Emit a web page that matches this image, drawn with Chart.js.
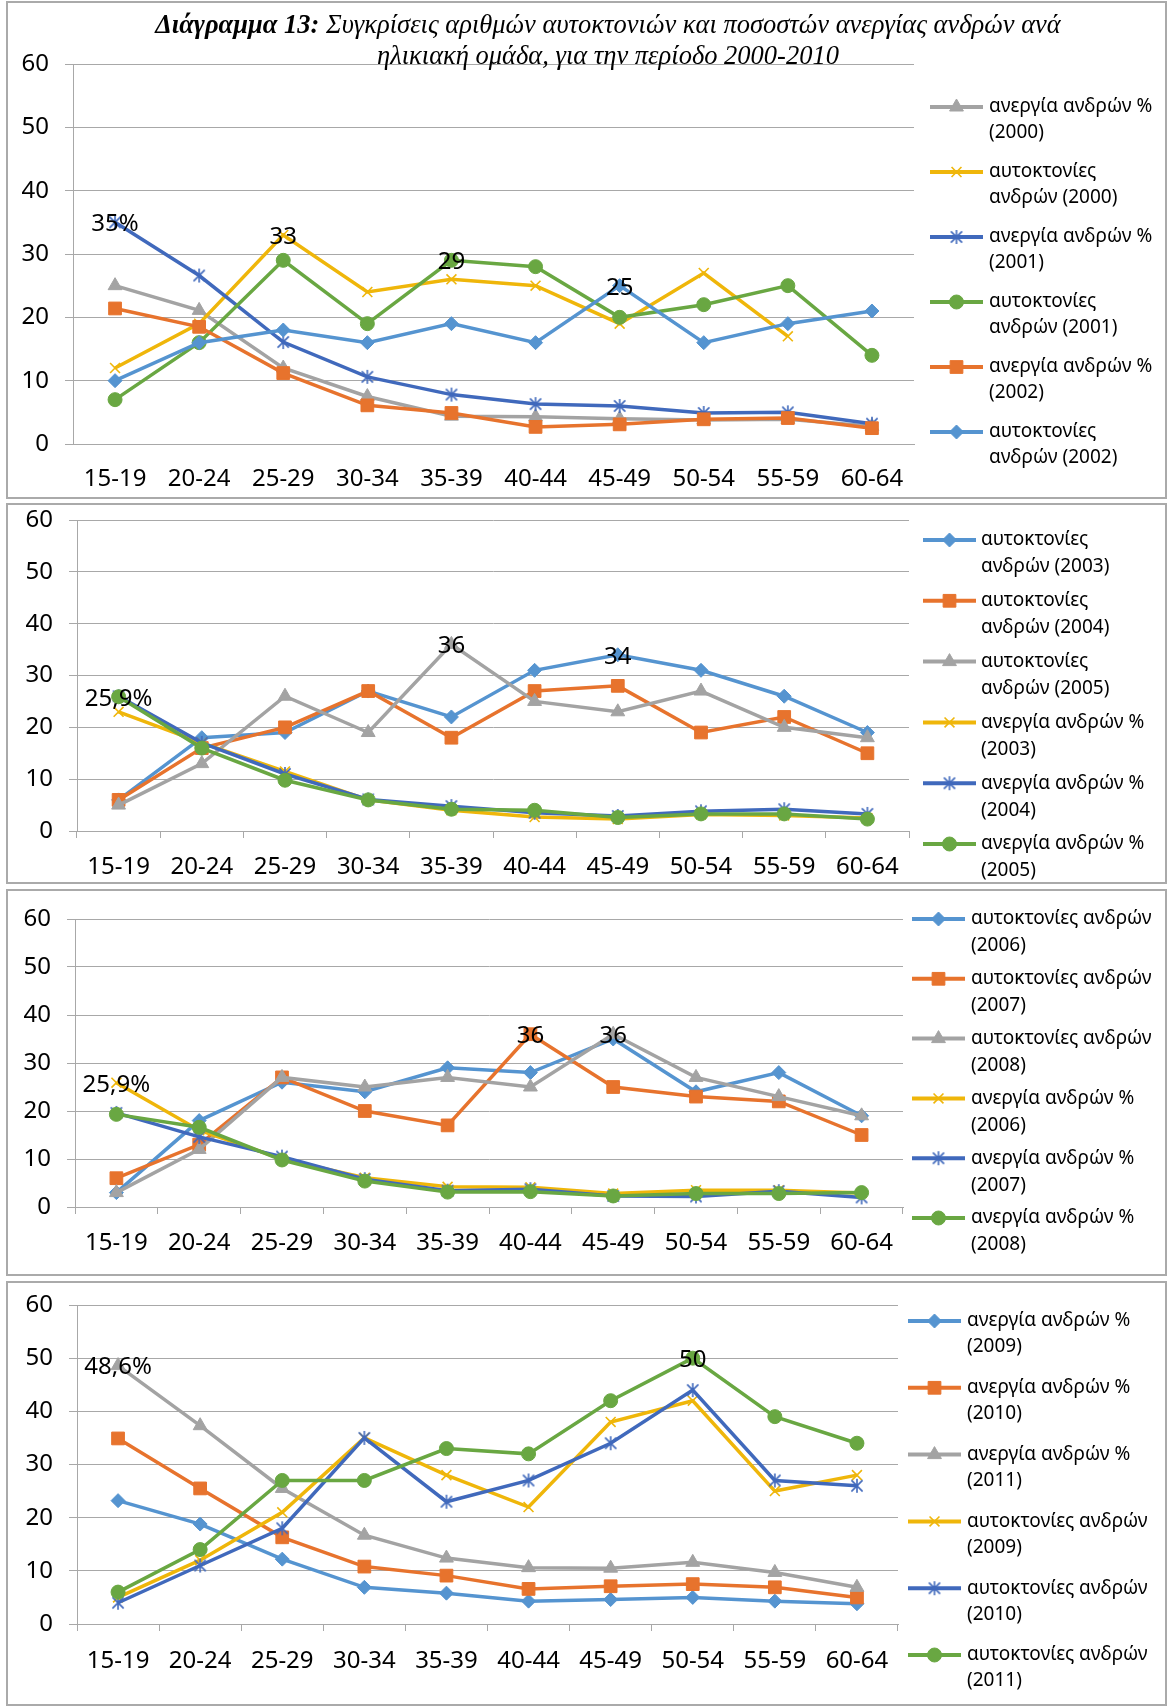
<!DOCTYPE html>
<html>
<head>
<meta charset="utf-8">
<script src="https://cdn.jsdelivr.net/npm/chart.js@4.4.0/dist/chart.umd.min.js"></script>
<style>
  body { margin: 0; background: #fff; }
  #page { position: relative; width: 1169px; height: 1706px; overflow: hidden; }
  .panel { position: absolute; left: 6px; width: 1161px; border: 2px solid #aaaaaa; box-sizing: border-box; }
  canvas { position: absolute; left: 0; }
  #title {
    position: absolute; left: 108px; width: 1000px; top: 9px;
    text-align: center; color: #000; white-space: nowrap;
    font-family: "Liberation Serif", "DejaVu Serif", serif;
    font-style: italic; font-size: 26.5px; line-height: 30.5px;
  }
</style>
</head>
<body>
<div id="page">
  <div class="panel" style="top:1px;height:498px"></div>
  <div class="panel" style="top:503px;height:381px"></div>
  <div class="panel" style="top:889px;height:387px"></div>
  <div class="panel" style="top:1281px;height:425px"></div>
  <canvas id="c1" width="1169" height="497" style="top:1px"></canvas>
  <canvas id="c2" width="1169" height="380" style="top:503px"></canvas>
  <canvas id="c3" width="1169" height="386" style="top:889px"></canvas>
  <canvas id="c4" width="1169" height="423" style="top:1281px"></canvas>
  <div id="title"><b>Διάγραμμα 13:</b> Συγκρίσεις αριθμών αυτοκτονιών και ποσοστών ανεργίας ανδρών ανά<br>ηλικιακή ομάδα, για την περίοδο 2000-2010</div>
</div>
<script>
const ageGroups = ['15-19', '20-24', '25-29', '30-34', '35-39', '40-44', '45-49', '50-54', '55-59', '60-64'];

// 2000 - 2002
const unemp2000 = [25, 21.1, 12, 7.5, 4.4, 4.3, 4.0, 3.8, 3.9, 2.8];
const suic2000 = [12, 19, 33, 24, 26, 25, 19, 27, 17, null];
const unemp2001 = [35, 26.6, 16.1, 10.6, 7.8, 6.3, 6.0, 4.9, 5.0, 3.2];
const suic2001 = [7, 16, 29, 19, 29, 28, 20, 22, 25, 14];
const unemp2002 = [21.4, 18.5, 11.2, 6.1, 4.9, 2.7, 3.1, 3.9, 4.1, 2.5];
const suic2002 = [10, 16, 18, 16, 19, 16, 25, 16, 19, 21];

// 2003 - 2005
const suic2003 = [6, 18, 19, 27, 22, 31, 34, 31, 26, 19];
const suic2004 = [6, 16, 20, 27, 18, 27, 28, 19, 22, 15];
const suic2005 = [5, 13, 26, 19, 36, 25, 23, 27, 20, 18];
const unemp2003 = [23, 17, 11.5, 6, 4, 2.7, 2.3, 3.2, 3, 2.5];
const unemp2004 = [26, 17, 11, 6.1, 4.8, 3.5, 2.9, 3.8, 4.2, 3.3];
const unemp2005 = [25.9, 16, 9.8, 6, 4.2, 4, 2.6, 3.3, 3.3, 2.3];

// 2006 - 2008
const suic2006 = [3, 18, 26, 24, 29, 28, 35, 24, 28, 19];
const suic2007 = [6, 13, 27, 20, 17, 36, 25, 23, 22, 15];
const suic2008 = [3, 12, 27, 25, 27, 25, 36, 27, 23, 19];
const unemp2006 = [25.9, 16, 10, 6.1, 4.2, 4.1, 2.8, 3.5, 3.5, 2.9];
const unemp2007 = [19.6, 14.6, 10.5, 5.8, 3.4, 3.7, 2.3, 2.2, 3.3, 2.0];
const unemp2008 = [19.3, 16.6, 9.8, 5.4, 3.1, 3.2, 2.3, 2.8, 2.8, 3.0];

// 2009 - 2011
const unemp2009 = [23.2, 18.8, 12.2, 6.9, 5.8, 4.3, 4.6, 5.0, 4.3, 3.8];
const unemp2010 = [34.9, 25.5, 16.3, 10.8, 9.1, 6.6, 7.1, 7.5, 6.9, 5.0];
const unemp2011 = [48.6, 37.3, 25.5, 16.7, 12.4, 10.6, 10.5, 11.6, 9.7, 6.9];
const suic2009 = [5, 12, 21, 35, 28, 22, 38, 42, 25, 28];
const suic2010 = [4, 11, 18, 35, 23, 27, 34, 44, 27, 26];
const suic2011 = [6, 14, 27, 27, 33, 32, 42, 50, 39, 34];

const yTicks = [0, 10, 20, 30, 40, 50, 60];

const lightBlue = '#5594d0';
const orange = '#e7732d';
const grey = '#a3a3a3';
const gold = '#efb60a';
const darkBlue = '#4069bc';
const green = '#69a742';

const FONT = '"Noto Sans", "Open Sans", sans-serif';
const GRID = '#a8a8a8';

// excel-like asterisk marker
function asterisk(color, r) {
  const c = document.createElement('canvas');
  const s = Math.ceil(r * 2 + 4);
  c.width = c.height = s;
  const g = c.getContext('2d');
  const m = s / 2, d = r * 0.8;
  g.strokeStyle = color;
  g.lineWidth = 1.6;
  g.beginPath();
  g.moveTo(m, m - r); g.lineTo(m, m + r);
  g.moveTo(m - d, m - d); g.lineTo(m + d, m + d);
  g.moveTo(m - d, m + d); g.lineTo(m + d, m - d);
  g.stroke();
  return c;
}

const styles = {
  lightBlue: { color: lightBlue, pointStyle: 'rectRot', radius: 7, bw: 1 },
  orange: { color: orange, pointStyle: 'rect', radius: 9, bw: 1 },
  grey: { color: grey, pointStyle: 'triangle', radius: 8, bw: 1 },
  gold: { color: gold, pointStyle: 'crossRot', radius: 7, bw: 1.6 },
  darkBlue: { color: darkBlue, pointStyle: asterisk(darkBlue, 7), radius: 7, bw: 1 },
  green: { color: green, pointStyle: 'circle', radius: 7, bw: 1 }
};

function wrapText(ctx, text, maxWidth) {
  const words = text.split(' ');
  const lines = [];
  let cur = '';
  words.forEach(w => {
    const test = cur ? cur + ' ' + w : w;
    if (cur && ctx.measureText(test).width > maxWidth) {
      lines.push(cur);
      cur = w;
    } else {
      cur = test;
    }
  });
  if (cur) lines.push(cur);
  return lines;
}

// legend on the right, one entry per dataset with wrapped text
const sideLegend = {
  id: 'sideLegend',
  afterDraw(chart, args, opts) {
    const ctx = chart.ctx;
    ctx.save();
    ctx.font = '19px ' + FONT;
    ctx.textBaseline = 'middle';
    ctx.textAlign = 'left';
    chart.data.datasets.forEach((ds, i) => {
      const y = opts.y0 + i * opts.step;
      ctx.strokeStyle = ds.borderColor;
      ctx.lineWidth = 4;
      ctx.beginPath();
      ctx.moveTo(opts.x1, y);
      ctx.lineTo(opts.x2, y);
      ctx.stroke();
      ctx.fillStyle = ds.borderColor;
      ctx.lineWidth = ds.pointBorderWidth;
      Chart.helpers.drawPoint(ctx, {
        pointStyle: ds.pointStyle, radius: ds.pointRadius, rotation: 0, borderWidth: ds.pointBorderWidth
      }, (opts.x1 + opts.x2) / 2, y);
      ctx.fillStyle = '#000';
      wrapText(ctx, ds.label, opts.maxWidth).forEach((line, k) => {
        ctx.fillText(line, opts.tx, y + k * opts.lineGap);
      });
    });
    ctx.restore();
  }
};

// value labels written over selected points
const pointLabels = {
  id: 'pointLabels',
  afterDatasetsDraw(chart, args, opts) {
    const ctx = chart.ctx;
    ctx.save();
    ctx.font = '24px ' + FONT;
    ctx.fillStyle = '#000';
    ctx.textAlign = 'center';
    ctx.textBaseline = 'middle';
    (opts.items || []).forEach(it => {
      const el = chart.getDatasetMeta(it.ds).data[it.idx];
      const v = chart.data.datasets[it.ds].data[it.idx];
      const txt = String(v).replace('.', ',') + (it.suffix || '');
      ctx.fillText(txt, el.x, el.y + 2);
    });
    ctx.restore();
  }
};

function makeChart(id, series, box, legend, labelItems) {
  const n = series.length;
  const datasets = series.map((s, i) => {
    const st = styles[s.style];
    return {
      label: s.label,
      data: s.data,
      borderColor: st.color,
      backgroundColor: st.color,
      borderWidth: 3.5,
      tension: 0,
      pointStyle: st.pointStyle,
      pointRadius: st.radius,
      pointBorderWidth: st.bw,
      pointBackgroundColor: st.color,
      pointBorderColor: st.color,
      order: n - i
    };
  });
  return new Chart(document.getElementById(id), {
    type: 'line',
    data: { labels: ageGroups, datasets },
    options: {
      responsive: false,
      animation: false,
      devicePixelRatio: 1,
      layout: { padding: { top: box.top, right: box.right, left: 0, bottom: 0 } },
      plugins: {
        legend: { display: false },
        tooltip: { enabled: false },
        sideLegend: legend,
        pointLabels: { items: labelItems }
      },
      scales: {
        x: {
          offset: true,
          grid: {
            display: true, drawOnChartArea: false, offset: true,
            drawTicks: box.xTicks, tickLength: 7, color: GRID
          },
          border: { display: true, color: GRID, width: 1 },
          ticks: { color: '#000', font: { family: FONT, size: 24 }, padding: box.xPad, maxRotation: 0 },
          afterFit(scale) { scale.height = box.xHeight; }
        },
        y: {
          min: 0, max: 60,
          afterBuildTicks(scale) { scale.ticks = yTicks.map(v => ({ value: v })); },
          grid: { color: GRID, lineWidth: 1, tickLength: 8 },
          border: { display: true, color: GRID, width: 1 },
          ticks: { color: '#000', font: { family: FONT, size: 24 }, padding: 16 },
          afterFit(scale) {
            scale.width = box.yWidth;
            // top/bottom come from the layout padding only
            scale.paddingTop = 0;
            scale.paddingBottom = 0;
          }
        }
      }
    },
    plugins: [sideLegend, pointLabels]
  });
}

makeChart('c1', [
  { label: 'ανεργία ανδρών % (2000)', data: unemp2000, style: 'grey' },
  { label: 'αυτοκτονίες ανδρών (2000)', data: suic2000, style: 'gold' },
  { label: 'ανεργία ανδρών % (2001)', data: unemp2001, style: 'darkBlue' },
  { label: 'αυτοκτονίες ανδρών (2001)', data: suic2001, style: 'green' },
  { label: 'ανεργία ανδρών % (2002)', data: unemp2002, style: 'orange' },
  { label: 'αυτοκτονίες ανδρών (2002)', data: suic2002, style: 'lightBlue' }
], { top: 63, right: 255, yWidth: 73, xHeight: 54, xTicks: false, xPad: 21 },
{ x1: 930, x2: 983, tx: 989, y0: 106, step: 65, lineGap: 26, maxWidth: 170 },
[
  { ds: 2, idx: 0, suffix: '%' },
  { ds: 1, idx: 2 },
  { ds: 3, idx: 4 },
  { ds: 5, idx: 6 }
]);

makeChart('c2', [
  { label: 'αυτοκτονίες ανδρών (2003)', data: suic2003, style: 'lightBlue' },
  { label: 'αυτοκτονίες ανδρών (2004)', data: suic2004, style: 'orange' },
  { label: 'αυτοκτονίες ανδρών (2005)', data: suic2005, style: 'grey' },
  { label: 'ανεργία ανδρών % (2003)', data: unemp2003, style: 'gold' },
  { label: 'ανεργία ανδρών % (2004)', data: unemp2004, style: 'darkBlue' },
  { label: 'ανεργία ανδρών % (2005)', data: unemp2005, style: 'green' }
], { top: 17, right: 260, yWidth: 77, xHeight: 52, xTicks: true, xPad: 15 },
{ x1: 923, x2: 976, tx: 981, y0: 37, step: 60.8, lineGap: 27, maxWidth: 170 },
[
  { ds: 5, idx: 0, suffix: '%' },
  { ds: 2, idx: 4 },
  { ds: 0, idx: 6 }
]);

makeChart('c3', [
  { label: 'αυτοκτονίες ανδρών (2006)', data: suic2006, style: 'lightBlue' },
  { label: 'αυτοκτονίες ανδρών (2007)', data: suic2007, style: 'orange' },
  { label: 'αυτοκτονίες ανδρών (2008)', data: suic2008, style: 'grey' },
  { label: 'ανεργία ανδρών % (2006)', data: unemp2006, style: 'gold' },
  { label: 'ανεργία ανδρών % (2007)', data: unemp2007, style: 'darkBlue' },
  { label: 'ανεργία ανδρών % (2008)', data: unemp2008, style: 'green' }
], { top: 30, right: 266, yWidth: 75, xHeight: 68, xTicks: true, xPad: 15 },
{ x1: 912, x2: 965, tx: 971, y0: 30, step: 59.8, lineGap: 27, maxWidth: 192 },
[
  { ds: 3, idx: 0, suffix: '%' },
  { ds: 1, idx: 5 },
  { ds: 2, idx: 6 }
]);

makeChart('c4', [
  { label: 'ανεργία ανδρών % (2009)', data: unemp2009, style: 'lightBlue' },
  { label: 'ανεργία ανδρών % (2010)', data: unemp2010, style: 'orange' },
  { label: 'ανεργία ανδρών % (2011)', data: unemp2011, style: 'grey' },
  { label: 'αυτοκτονίες ανδρών (2009)', data: suic2009, style: 'gold' },
  { label: 'αυτοκτονίες ανδρών (2010)', data: suic2010, style: 'darkBlue' },
  { label: 'αυτοκτονίες ανδρών (2011)', data: suic2011, style: 'green' }
], { top: 24, right: 271, yWidth: 77, xHeight: 80, xTicks: true, xPad: 16 },
{ x1: 908, x2: 961, tx: 967, y0: 40, step: 66.8, lineGap: 26, maxWidth: 192 },
[
  { ds: 2, idx: 0, suffix: '%' },
  { ds: 5, idx: 7 }
]);
</script>
</body>
</html>
